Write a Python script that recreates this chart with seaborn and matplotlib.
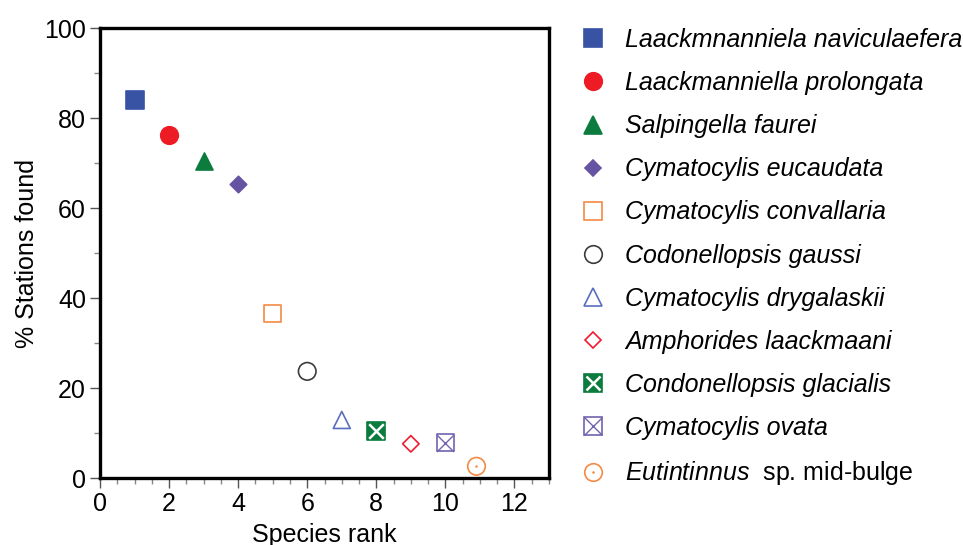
import numpy as np
import pandas as pd
import matplotlib
matplotlib.use("Agg")
import matplotlib.pyplot as plt
from matplotlib.lines import Line2D
from matplotlib.legend_handler import HandlerTuple
from matplotlib.ticker import MultipleLocator
import seaborn as sns

# data (rank order)
species = ["Laackmnanniela naviculaefera", "Laackmanniella prolongata", "Salpingella faurei",
           "Cymatocylis eucaudata", "Cymatocylis convallaria", "Codonellopsis gaussi",
           "Cymatocylis drygalaskii", "Condonellopsis glacialis", "Amphorides laackmaani",
           "Cymatocylis ovata", "Eutintinnus sp. mid-bulge"]
rank = [1, 2, 3, 4, 5, 6, 7, 8, 9, 10, 10.9]
pct_stations = [84.0, 76.2, 70.5, 65.4, 36.5, 23.7, 12.9, 10.4, 7.6, 7.8, 2.6]
# order of entries in the legend (indices into species)
legend_order = [0, 1, 2, 3, 4, 5, 6, 8, 7, 9, 10]

# marker style per species: (marker, colour, filled, size, overlay)
styles = [
    ("s", "#3953a4", True, 150, None),
    ("o", "#ed1c24", True, 160, None),
    ("^", "#0b7c3e", True, 150, None),
    ("D", "#6654a3", True, 70, None),
    ("s", "#f58a45", False, 150, None),
    ("o", "#3c3c3c", False, 160, None),
    ("^", "#5a6ec0", False, 150, None),
    ("s", "#0b7c3e", True, 150, ("x", "white", 110, 1.8)),
    ("D", "#ed1c2e", False, 70, None),
    ("s", "#7262b0", False, 150, ("x", "#7262b0", 150, 1.0)),
    ("o", "#f58a45", False, 160, (".", "#f58a45", 6, 0.5)),
]

df = pd.DataFrame({"species": species, "rank": rank, "pct": pct_stations})

sns.set_style("ticks")
plt.rcParams["font.family"] = ["Liberation Sans", "DejaVu Sans"]
plt.rcParams["mathtext.fontset"] = "custom"
plt.rcParams["mathtext.it"] = "Liberation Sans:italic"
plt.rcParams["mathtext.rm"] = "Liberation Sans"
plt.rcParams["text.color"] = "black"
plt.rcParams["axes.labelcolor"] = "black"
plt.rcParams["xtick.labelcolor"] = "black"
plt.rcParams["ytick.labelcolor"] = "black"
fs = 18

fig = plt.figure(figsize=(9.63, 5.45), dpi=100)
ax = fig.add_axes([100 / 963, 1 - 478 / 545, 449 / 963, 450 / 545])

handles = []
for i, (m, c, filled, s, over) in enumerate(styles):
    row = df.iloc[[i]]
    fc = c if filled else "none"
    sns.scatterplot(data=row, x="rank", y="pct", marker=m, s=s, color=c,
                    facecolor=fc, edgecolor=c, linewidth=1.2, ax=ax, legend=False, zorder=3)
    h = Line2D([], [], marker=m, linestyle="none", markersize=np.sqrt(s),
               markerfacecolor=fc, markeredgecolor=c, markeredgewidth=1.2)
    if over is not None:
        om, oc, os_, olw = over
        ax.scatter(row["rank"], row["pct"], marker=om, s=os_, color=oc, linewidths=olw, zorder=4)
        h2 = Line2D([], [], marker=om, linestyle="none", markersize=np.sqrt(os_),
                    color=oc, markeredgewidth=olw)
        h = (h, h2)
    handles.append(h)

ax.set_xlim(0, 13)
ax.set_ylim(0, 100)
ax.xaxis.set_major_locator(MultipleLocator(2))
ax.xaxis.set_minor_locator(MultipleLocator(0.5))
ax.yaxis.set_major_locator(MultipleLocator(20))
ax.yaxis.set_minor_locator(MultipleLocator(10))
ax.tick_params(which="major", length=7, width=1, color="#555555", labelsize=fs, pad=3)
ax.tick_params(which="minor", length=4, width=1, color="#888888")
for sp in ax.spines.values():
    sp.set_linewidth(2.4)
    sp.set_color("black")
ax.set_xlabel("Species rank", fontsize=fs, labelpad=5)
ax.set_ylabel("% Stations found", fontsize=fs, labelpad=4)

labels = [species[i] for i in legend_order]
labels[-1] = r"$\mathit{Eutintinnus}$  sp. mid-bulge"
leg_handles = [handles[i] for i in legend_order]
leg = fig.legend(leg_handles, labels, loc="upper left", bbox_to_anchor=(580 / 963, 1 - 28 / 545),
                 frameon=False, fontsize=fs, handlelength=1.0, handletextpad=0.8,
                 labelspacing=0.765, borderpad=0, borderaxespad=0,
                 handler_map={tuple: HandlerTuple(ndivide=1)})
for t in leg.get_texts()[:-1]:
    t.set_fontstyle("italic")

fig.savefig("out.png", dpi=100)
